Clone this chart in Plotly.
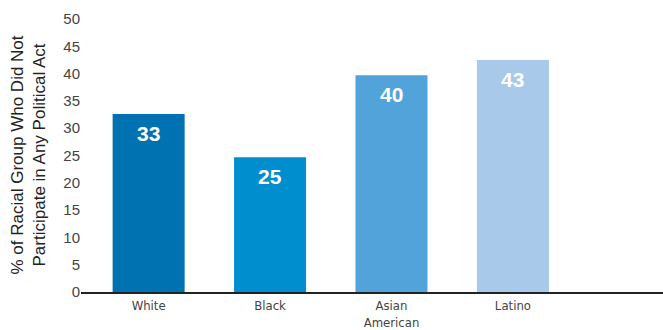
import plotly.graph_objects as go

# Share of each racial group that did not take part in any political act (%)
groups = ["White", "Black", "Asian<br>American", "Latino"]
pct_no_act = [32.6, 24.7, 39.7, 42.5]
bar_colors = ["#0072B1", "#008ECF", "#52A3D9", "#A8C9EA"]

y_ticks = [0, 5, 10, 15, 20, 25, 30, 35, 40, 45, 50]

fig = go.Figure()
fig.add_trace(go.Bar(
    x=groups,
    y=pct_no_act,
    marker=dict(color=bar_colors, line=dict(width=0)),
    width=0.593,
    hoverinfo="skip",
))

# value labels inside the top of each bar
for g, v in zip(groups, pct_no_act):
    fig.add_annotation(
        x=g, y=v, xref="x", yref="y",
        text=f"{int(v + 0.5):d}",
        showarrow=False, yanchor="top", yshift=-6,
        font=dict(family="Liberation Sans", size=21, color="white", weight="bold"),
    )

# two-line rotated y-axis title
fig.add_annotation(
    xref="paper", yref="paper", x=0, y=0.5,
    xanchor="center", yanchor="middle", xshift=-53,
    text="% of Racial Group Who Did Not<br>Participate in Any Political Act",
    textangle=-90, showarrow=False,
    font=dict(family="Liberation Sans", size=17, color="#222222"),
)

fig.update_layout(
    width=663, height=330,
    margin=dict(l=81, r=0, t=19, b=38),
    paper_bgcolor="white", plot_bgcolor="white",
    showlegend=False,
    bargap=0.4,
)
fig.update_xaxes(
    range=[-0.557, 4.236],
    showline=True, linecolor="#222222", linewidth=2,
    ticks="", showgrid=False, zeroline=False,
    tickfont=dict(family="DejaVu Sans Condensed", size=13, color="#444444"),
)
fig.update_yaxes(
    range=[0, 50], tickvals=y_ticks,
    showgrid=False, zeroline=False, showline=False, ticks="",
    tickfont=dict(family="Liberation Sans", size=15, color="#444444"),
)

fig.write_html("out.html")
